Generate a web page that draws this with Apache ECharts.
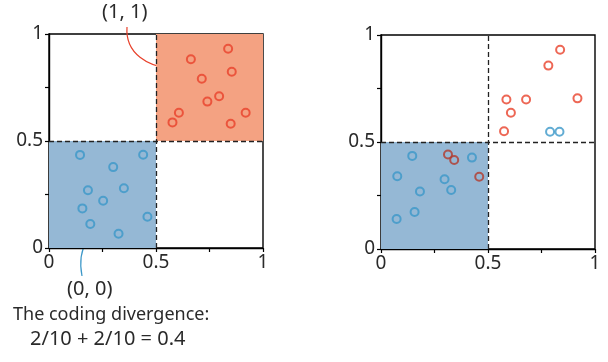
<!DOCTYPE html>
<html><head><meta charset="utf-8">
<script src="https://cdn.jsdelivr.net/npm/echarts@6/dist/echarts.min.js"></script>
<style>html,body{margin:0;padding:0;background:#fff}#c{width:608px;height:362px}</style>
</head><body><div id="c"></div>
<script>
// Left panel points
const leftBlue = [[0.145,0.435],[0.44,0.436],[0.30,0.378],[0.182,0.27],[0.35,0.279],[0.253,0.221],[0.156,0.185],[0.193,0.112],[0.46,0.146],[0.325,0.067]];
const leftRed = [[0.837,0.931],[0.663,0.882],[0.854,0.824],[0.714,0.791],[0.795,0.709],[0.74,0.684],[0.607,0.632],[0.577,0.587],[0.919,0.632],[0.849,0.581]];
// Right panel points
const rightRed = [[0.837,0.931],[0.782,0.857],[0.586,0.699],[0.678,0.699],[0.918,0.704],[0.607,0.637],[0.575,0.550]];
const rightBlue = [[0.79,0.548],[0.834,0.548],[0.146,0.435],[0.425,0.427],[0.076,0.34],[0.297,0.326],[0.182,0.269],[0.328,0.276],[0.157,0.173],[0.073,0.14]];
const rightDarkRed = [[0.313,0.442],[0.342,0.416],[0.459,0.338]];
const tickLabels = {0:'0', 0.5:'0.5', 1:'1'};
const split = 0.5;
const annTop = '(1, 1)', annBottom = '(0, 0)';
const caption1 = 'The coding divergence:', caption2 = '2/10 + 2/10 = 0.4';

const FONT = '"Noto Sans", sans-serif';
const TXT = '#2a2a2a';
const BLUE_FILL = '#95b8d5', RED_FILL = '#f4a282';
const BLUE = '#3b97c8', RED = '#e8412b', DARKRED = '#b3392c';

function axis(idx, type){
  return {
    type:'value', gridIndex: idx, min:0, max:1, interval:0.25,
    axisLine:{show:true, onZero:false, lineStyle:{color:'#000', width:1.4}},
    axisTick:{show:true, length:4, lineStyle:{color:'#000', width:1.2}},
    splitLine:{show:false},
    axisLabel:{fontFamily:FONT, fontSize:19, color:TXT, margin: type==='x'?5:6,
      formatter: v => (tickLabels[v] !== undefined ? tickLabels[v] : '')}
  };
}
function scatter(idx, data, color, extra){
  return Object.assign({
    type:'scatter', xAxisIndex: idx, yAxisIndex: idx, data: data, symbol:'circle', symbolSize:8,
    itemStyle:{color:'transparent', borderColor:color, borderWidth:2}, z:5,
    emphasis:{disabled:true}
  }, extra||{});
}
const dashed = {silent:true, symbol:'none', label:{show:false},
  lineStyle:{color:'#222', type:[5,3], width:1.3}, data:[{xAxis:split},{yAxis:split}]};

const option = {
  animation:false,
  grid:[
    {left:49, top:34, width:214, height:214, show:true, borderColor:'#000', borderWidth:1.4, backgroundColor:'transparent'},
    {left:381, top:35, width:214, height:214, show:true, borderColor:'#000', borderWidth:1.4, backgroundColor:'transparent'}
  ],
  xAxis:[axis(0,'x'), axis(1,'x')],
  yAxis:[axis(0,'y'), axis(1,'y')],
  series:[
    scatter(0, leftBlue, BLUE, {
      markArea:{silent:true, itemStyle:{color:BLUE_FILL}, data:[[{coord:[0,0]},{coord:[split,split]}]]},
      markLine: dashed}),
    scatter(0, leftRed, RED, {
      markArea:{silent:true, itemStyle:{color:RED_FILL}, data:[[{coord:[split,split]},{coord:[1,1]}]]}}),
    scatter(1, rightBlue, BLUE, {
      markArea:{silent:true, itemStyle:{color:BLUE_FILL}, data:[[{coord:[0,0]},{coord:[split,split]}]]},
      markLine: dashed}),
    scatter(1, rightRed, RED),
    scatter(1, rightDarkRed, DARKRED)
  ],
  graphic:[
    {type:'text', left:102, top:2, style:{text:annTop, font:'20px '+FONT, fill:TXT}},
    {type:'bezierCurve', shape:{x1:127, y1:27, x2:168, y2:68, cpx1:125, cpy1:55, cpx2:150, cpy2:66},
      style:{stroke:RED, lineWidth:1.2, fill:null}},
    {type:'bezierCurve', shape:{x1:87, y1:240, x2:82, y2:276, cpx1:80, cpy1:252, cpx2:80, cpy2:266},
      style:{stroke:BLUE, lineWidth:1.2, fill:null}},
    {type:'text', left:67, top:279, style:{text:annBottom, font:'20px '+FONT, fill:TXT}},
    {type:'text', left:13, top:306, style:{text:caption1, font:'18px '+FONT, fill:TXT}},
    {type:'text', left:30, top:329, style:{text:caption2, font:'20px '+FONT, fill:TXT}}
  ]
};
echarts.init(document.getElementById('c')).setOption(option);
</script></body></html>
